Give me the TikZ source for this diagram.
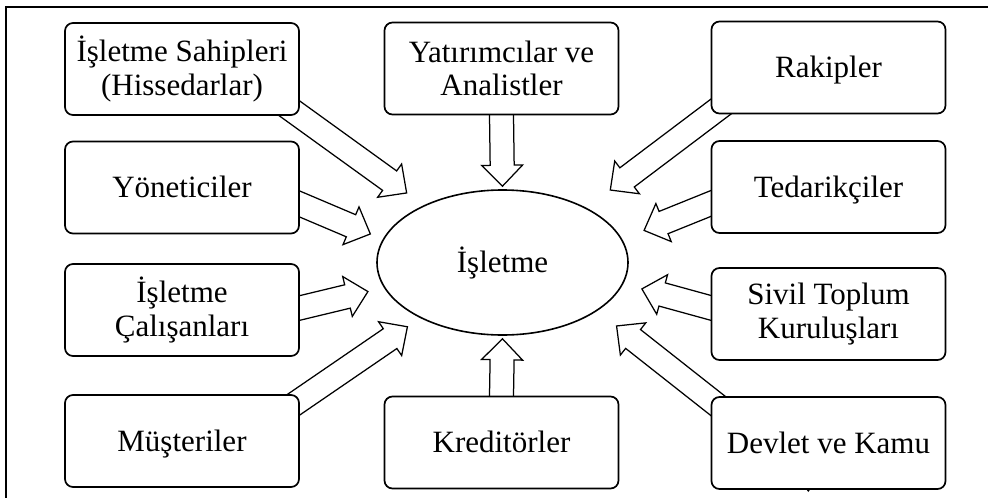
\documentclass[tikz,border=0pt]{standalone}
\usepackage{fontspec}
\setmainfont{Liberation Serif}
\usetikzlibrary{calc,backgrounds,shapes.geometric}
\tikzset{
  box/.style={draw, rounded corners=8pt, line width=1.7pt, fill=white,
    minimum width=234pt, minimum height=92pt, inner sep=0pt, align=center,
    font=\fontsize{31}{33.5}\selectfont},
  oneline/.style={text height=20.5pt, text depth=0pt},
  hub/.style={draw, ellipse, line width=1.6pt, fill=white,
    minimum width=251pt, minimum height=145pt, inner sep=0pt,
    font=\fontsize{31}{33.5}\selectfont, text height=20.5pt, text depth=0pt},
  frameline/.style={line width=1.2pt},
  blockarrow/.style={draw, line width=1.25pt, fill=white, sharp corners, line join=miter,
    to path={let \p1=(\tikztostart), \p2=(\tikztotarget),
      \n1={atan2(\y2-\y1,\x2-\x1)}, \n2={veclen(\x2-\x1,\y2-\y1)-#1pt},
      \n3={\n2-21pt} in
      ($(\p1)+(\n1:-30pt)+(\n1+90:12pt)$) --
      ($(\p1)+(\n1:\n3)+(\n1+90:12pt)$) --
      ($(\p1)+(\n1:\n3)+(\n1+90:20.5pt)$) --
      ($(\p1)+(\n1:\n2)$) --
      ($(\p1)+(\n1:\n3)+(\n1-90:20.5pt)$) --
      ($(\p1)+(\n1:\n3)+(\n1-90:12pt)$) --
      ($(\p1)+(\n1:-30pt)+(\n1-90:12pt)$) -- cycle}}
}
\begin{document}
\begin{tikzpicture}[x=1pt, y=-1pt]
\useasboundingbox (0,0) rectangle (988,498);
\draw[frameline] (988,7) -- (6,7) -- (6,498);

\node[hub] (isl) at (502.5,262.5) {İşletme};

\node[box] (sah) at (182,69) {İşletme Sahipleri\\(Hissedarlar)};
\node[box, oneline] (yon) at (182,187.5) {Yöneticiler};
\node[box] (cal) at (182,310) {İşletme\\Çalışanları};
\node[box, oneline] (mus) at (182,441) {Müşteriler};

\node[box] (yat) at (501.5,68.5) {Yatırımcılar ve\\Analistler};
\node[box, oneline] (kre) at (501.5,442.5) {Kreditörler};

\node[box, oneline] (rak) at (828.5,67.5) {Rakipler};
\node[box, oneline] (ted) at (828.5,187) {Tedarikçiler};
\node[box] (siv) at (828.5,314) {Sivil Toplum\\Kuruluşları};
\node[box, oneline] (dev) at (828.5,443) {Devlet ve Kamu};

\begin{scope}[on background layer]
\draw[blockarrow=3] (yat.south) to (isl.north);
\draw[blockarrow=3] (kre.north) to (isl.south);
\draw[blockarrow=21] (sah.south east) to (isl.144);
\draw[blockarrow=13.4] (yon.-8.4) to (isl.169.4);
\draw[blockarrow=16.4] (cal.1) to (isl.192.2);
\draw[blockarrow=15.4] (mus.19.4) to (isl.214.7);
\draw[blockarrow=29.6] (rak.south west) to (isl.33.8);
\draw[blockarrow=23.5] (ted.188.6) to (isl.11.7);
\draw[blockarrow=19.2] (siv.177) to (isl.-10.4);
\draw[blockarrow=24.4] (dev.160) to (isl.-27.5);
\end{scope}

\fill (806.5,489.5) -- (810.1,489.5) -- (808.3,492) -- cycle;
\end{tikzpicture}
\end{document}
